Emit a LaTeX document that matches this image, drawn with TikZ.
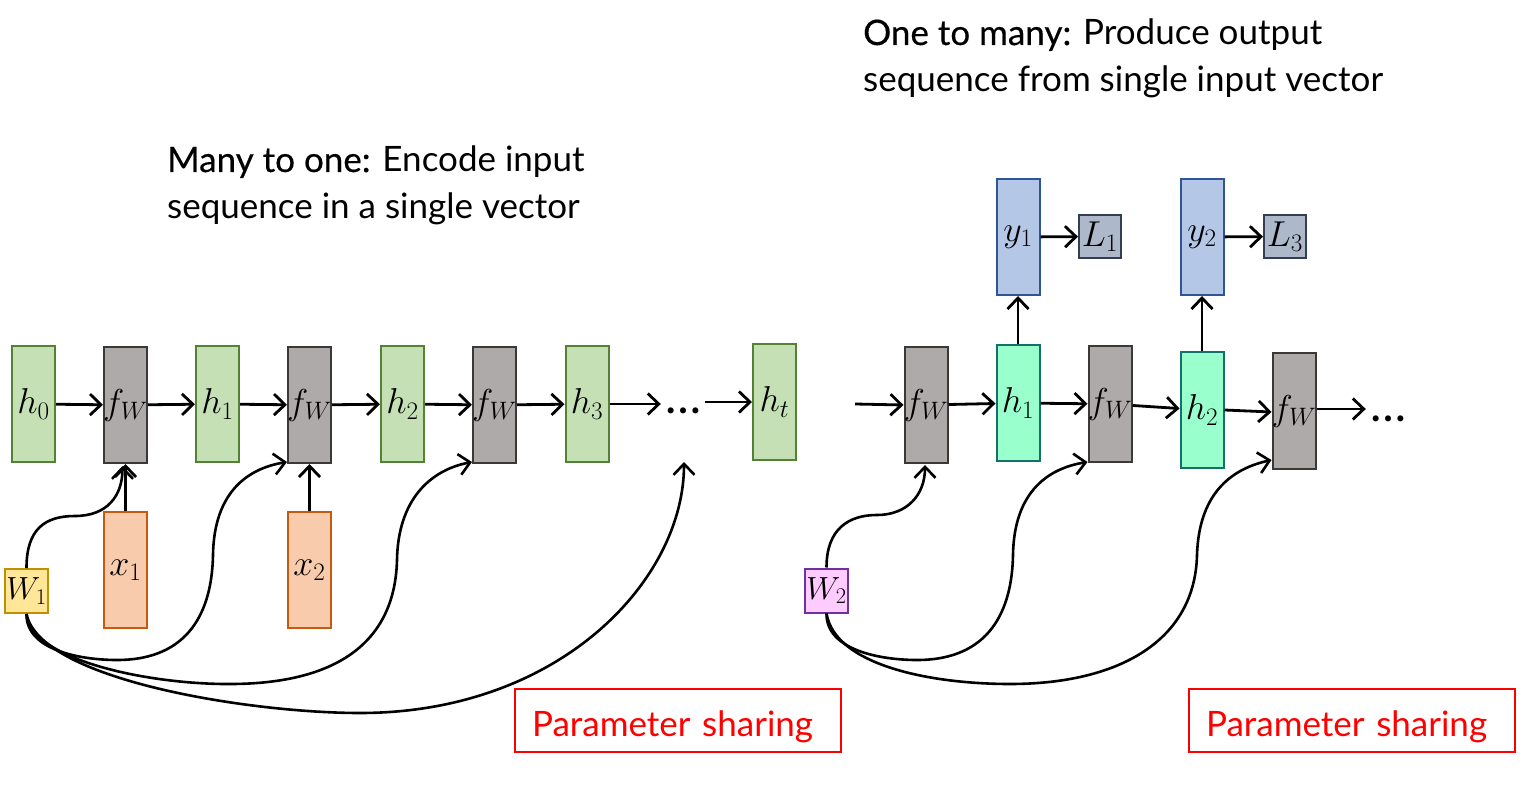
\RequirePackage{fix-cm}
\documentclass[tikz,border=0pt]{standalone}
\usepackage{fontspec}
\setmainfont{Lato}
\newfontfamily\medfont[FakeBold=0.4]{Lato}
\usetikzlibrary{arrows.meta,calc}
\definecolor{hgreen}{HTML}{C5E0B4}
\definecolor{hgreenD}{HTML}{548235}
\definecolor{fgray}{HTML}{AEAAAA}
\definecolor{fgrayD}{HTML}{3B3838}
\definecolor{xorange}{HTML}{F8CBAD}
\definecolor{xorangeD}{HTML}{C55A11}
\definecolor{wyellow}{HTML}{FFE699}
\definecolor{wyellowD}{HTML}{BF9000}
\definecolor{tteal}{HTML}{99FFCC}
\definecolor{ttealD}{HTML}{14706A}
\definecolor{yblue}{HTML}{B4C7E7}
\definecolor{yblueD}{HTML}{2F5597}
\definecolor{lgray}{HTML}{ADB9CA}
\definecolor{lgrayD}{HTML}{333F50}
\definecolor{wpink}{HTML}{FFCCFF}
\definecolor{wpinkD}{HTML}{7030A0}
\newcommand{\mfont}{\fontsize{36}{40}\selectfont}
\newcommand{\wfont}{\fontsize{32}{36}\selectfont}
\newcommand{\dfont}{\fontsize{48}{52}\selectfont}
\newcommand{\tfont}{\fontsize{35}{42}\selectfont}
\newcommand{\lb}[1]{\makebox[0pt]{#1}}
\begin{document}
\begin{tikzpicture}[x=1pt,y=-1pt,
  cell/.style={draw, line width=2pt, minimum width=43pt, minimum height=116pt, inner sep=0pt, font=\mfont},
  hcell/.style={cell, fill=hgreen, draw=hgreenD},
  fcell/.style={cell, fill=fgray, draw=fgrayD},
  xcell/.style={cell, fill=xorange, draw=xorangeD},
  tcell/.style={cell, fill=tteal, draw=ttealD},
  ycell/.style={cell, fill=yblue, draw=yblueD},
  lcell/.style={cell, minimum width=42pt, minimum height=43pt, fill=lgray, draw=lgrayD},
  wcell/.style={cell, minimum width=43pt, minimum height=44pt, font=\wfont},
  dotnode/.style={anchor=base, inner sep=4pt, font=\dfont},
  conn/.style={line width=2.8pt, -{Straight Barb[length=11pt,width=21pt]}},
  curv/.style={line width=2.6pt, -{Straight Barb[length=11pt,width=21pt]}},
  psbox/.style={draw=red, line width=1.3pt, text=red, font=\tfont, minimum height=63pt, text width=292pt, text height=31pt, text depth=0pt, inner xsep=17pt, align=left},
  ttl/.style={anchor=base west, inner sep=0pt, font=\tfont}
]
\useasboundingbox (0,0) rectangle (1538,799);

% titles
\node[ttl] (t1a) at (167,172) {{\medfont Many to one:} Encode input};
\node[ttl] (t1b) at (167,219) {sequence in a single vector};
\node[ttl] (t2a) at (863,45) {{\medfont One to many:} Produce output};
\node[ttl] (t2b) at (863,92) {sequence from single input vector};

% left chain
\node[hcell] (h0) at (33.5,404) {\lb{$h_0$}};
\node[fcell] (fw1) at (125.5,405) {\lb{$f_W$}};
\node[hcell] (h1) at (217.5,404) {\lb{$h_1$}};
\node[fcell] (fw2) at (309.5,405) {\lb{$f_W$}};
\node[hcell] (h2) at (402.5,404) {\lb{$h_2$}};
\node[fcell] (fw3) at (494.5,405) {\lb{$f_W$}};
\node[hcell] (h3) at (587,404) {\lb{$h_3$}};
\node[dotnode] (dots1) at (683,413) {…};
\node[hcell] (ht) at (774.5,402) {\lb{$h_t$}};
\node[xcell] (x1) at (125.5,570) {\lb{$x_1$}};
\node[xcell] (x2) at (309.5,570) {\lb{$x_2$}};
\node[wcell, fill=wyellow, draw=wyellowD] (W1) at (26.5,591) {\lb{$W_1$}};
\coordinate (d1in) at (684,462);

\draw[conn] (h0) -- (fw1);
\draw[conn] (fw1) -- (h1);
\draw[conn] (h1) -- (fw2);
\draw[conn] (fw2) -- (h2);
\draw[conn] (h2) -- (fw3);
\draw[conn] (fw3) -- (h3);
\draw[conn] (h3.east) -- (h3.east -| dots1.west);
\draw[conn] (ht.west -| dots1.east) -- (ht.west);
\draw[conn] (x1.north) -- (fw1.south);
\draw[conn] (x2.north) -- (fw2.south);

\draw[curv] (W1.north) .. controls +(0,-39) and +(-30,0) .. (75,516) .. controls +(32,0) and +(0,30) .. ($(fw1.south)+(-3,2)$);
\draw[curv] (W1.south) .. controls (26,650) and (80,660) .. (117,660) .. controls (190,660) and (212,610) .. (213,555) .. controls (214,490) and (250,468) .. ($(fw2.south west)+(0,-2)$);
\draw[curv] (W1.south) .. controls (30,660) and (150,685) .. (233,684) .. controls (340,683) and (395,640) .. (397,560) .. controls (398,500) and (430,470) .. ($(fw3.south west)+(0,-2)$);
\draw[curv] (W1.south) .. controls (40,680) and (250,713) .. (360,713) .. controls (560,713) and (684,580) .. (d1in);

% right chain
\coordinate (inR) at (855,404);
\node[fcell] (fa) at (926,405) {\lb{$f_W$}};
\node[tcell] (rh1) at (1018,403) {\lb{$h_1$}};
\node[fcell] (fb) at (1110,404) {\lb{$f_W$}};
\node[tcell] (rh2) at (1202,410) {\lb{$h_2$}};
\node[fcell] (fc) at (1294,411) {\lb{$f_W$}};
\node[dotnode] (dots2) at (1388,421) {…};
\node[ycell] (y1) at (1018,237) {\lb{$y_1$}};
\node[lcell] (L1) at (1100,236.5) {\lb{$L_1$}};
\node[ycell] (y2) at (1202,237) {\lb{$y_2$}};
\node[lcell] (L3) at (1285,236.5) {\lb{$L_3$}};
\node[wcell, fill=wpink, draw=wpinkD] (W2) at (826.5,590.5) {\lb{$W_2$}};

\draw[conn] (inR) -- (fa.west);
\draw[conn] (fa) -- (rh1);
\draw[conn] (rh1) -- (fb);
\draw[conn] (fb) -- (rh2);
\draw[conn] (rh2.east) -- ($(fc.west)+(0,1)$);
\draw[conn] ($(fc.east)+(0,-2)$) -- ($(fc.east -| dots2.west)+(0,-2)$);
\draw[conn] (rh1.north) -- (y1.south);
\draw[conn] (rh2.north) -- (y2.south);
\draw[conn] (y1) -- (L1);
\draw[conn] (y2) -- (L3);

\draw[curv] (W2.north) .. controls +(0,-39) and +(-28,0) .. (877,515) .. controls +(30,0) and +(0,30) .. ($(fa.south)+(-1,1)$);
\draw[curv] (W2.south) .. controls (826,650) and (880,660) .. (917,660) .. controls (990,660) and (1012,610) .. (1013,555) .. controls (1014,490) and (1050,468) .. ($(fb.south west)+(0,-1)$);
\draw[curv] (W2.south) .. controls (835,665) and (930,684) .. (1010,684) .. controls (1120,684) and (1195,640) .. (1197,555) .. controls (1199,490) and (1235,468) .. ($(fc.south west)+(0,-10)$);

% parameter sharing
\node[psbox] (ps1) at (678,720.5) {Parameter sharing};
\node[psbox] (ps2) at (1352,720.5) {Parameter sharing};
\end{tikzpicture}
\end{document}
